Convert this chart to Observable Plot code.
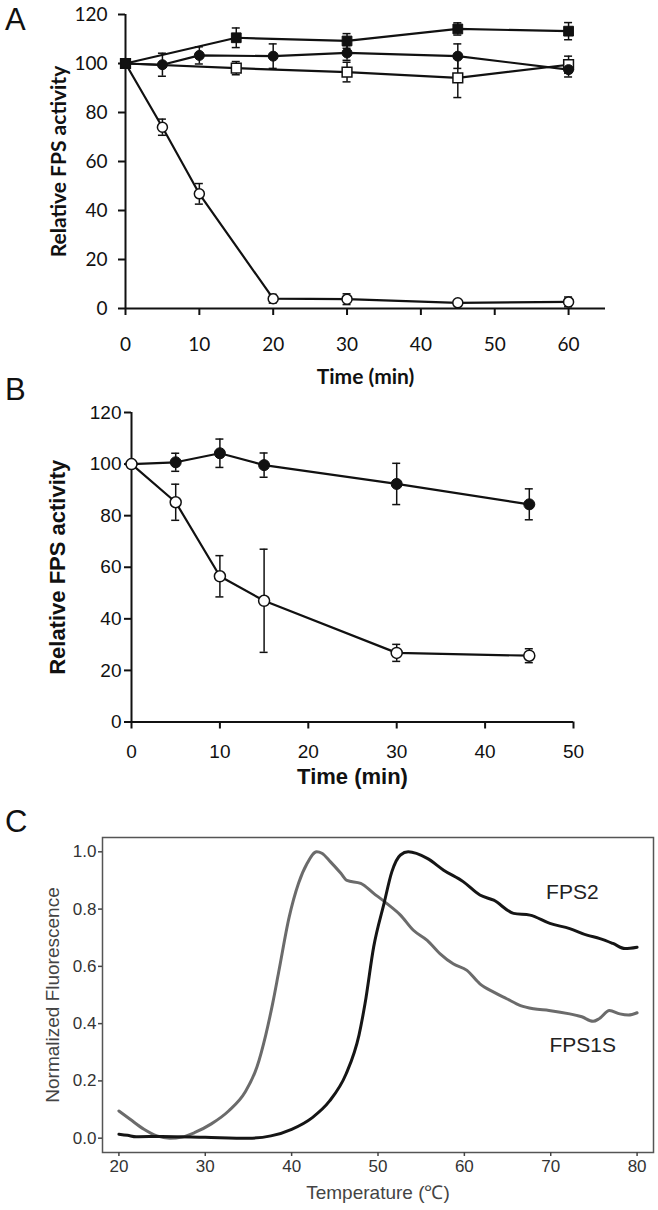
<!DOCTYPE html>
<html><head><meta charset="utf-8">
<script src="https://cdn.jsdelivr.net/npm/d3@7"></script>
<script src="https://cdn.jsdelivr.net/npm/@observablehq/plot@0.6"></script>
<style>
body{margin:0;background:#fff;}
#wrap{position:relative;width:658px;height:1210px;overflow:hidden;background:#fff;}
.panel{position:absolute;left:0;}
.letter{position:absolute;font-family:"Liberation Sans",Arial,sans-serif;font-size:31px;line-height:1;color:#111;}
</style></head><body><div id="wrap"></div>
<script>
// ---------- Panel A data ----------
const timesA_circles = [0, 5, 10, 20, 30, 45, 60];
const timesA_squares = [0, 15, 30, 45, 60];
const a_filledCircle    = [100, 99.5, 103.3, 103, 104.3, 103, 97.5];
const a_filledCircleErr = [0, 4.7, 3.5, 5, 3, 5, 3];
const a_openCircle      = [100, 74, 46.8, 4, 3.8, 2.3, 2.7];
const a_openCircleErr   = [0, 3.3, 4.2, 1.8, 2.2, 0.8, 2];
const a_filledSquare    = [100, 110.5, 109.2, 114.1, 113.2];
const a_filledSquareErr = [0, 4, 3, 2.5, 3.5];
const a_openSquare      = [100, 98.1, 96.5, 94.1, 99.5];
const a_openSquareErr   = [0, 2.7, 4, 8, 3.5];
const ticksA_x = [0, 10, 20, 30, 40, 50, 60];
const ticksA_y = [0, 20, 40, 60, 80, 100, 120];

// ---------- Panel B data ----------
const timesB = [0, 5, 10, 15, 30, 45];
const b_filled    = [100, 100.7, 104.2, 99.6, 92.3, 84.4];
const b_filledErr = [0, 3.5, 5.5, 4.7, 8, 6];
const b_open      = [100, 85.2, 56.5, 47, 26.8, 25.7];
const b_openErr   = [0, 7, 8, 20, 3.3, 2.7];
const ticksB_x = [0, 10, 20, 30, 40, 50];
const ticksB_y = [0, 20, 40, 60, 80, 100, 120];

// ---------- Panel C data ----------
const c_fps1s_T = [20, 21.3, 22.9, 24.4, 25.9, 27.3, 28.8, 30.7, 32.7, 34.6, 36.0, 37.0, 37.8, 38.5, 39.7, 40.8, 41.8, 42.9, 43.5, 44.5, 45.7, 46.4, 48, 49.5, 51, 52.6, 54.1, 55.7, 57.2, 58.7, 60.3, 61.8, 63.4, 64.9, 66.5, 68, 69.8, 72.2, 73.6, 74.9, 75.6, 76.8, 78, 79, 80];
const c_fps1s_F = [0.095, 0.066, 0.031, 0.008, 0.0, 0.004, 0.02, 0.05, 0.095, 0.16, 0.25, 0.36, 0.47, 0.58, 0.77, 0.89, 0.96, 1.0, 0.995, 0.965, 0.925, 0.9, 0.89, 0.855, 0.82, 0.779, 0.726, 0.691, 0.644, 0.609, 0.586, 0.539, 0.51, 0.487, 0.463, 0.452, 0.446, 0.434, 0.424, 0.408, 0.417, 0.446, 0.434, 0.43, 0.438];
const c_fps2_T = [20, 21, 22, 25, 30, 35, 37.6, 40, 42.4, 44.4, 46.3, 47.8, 48.5, 49.5, 50.7, 51.6, 52.6, 53.5, 55.7, 57.6, 59.9, 61.8, 63.4, 65.7, 67.6, 69.9, 72.2, 74.2, 75.7, 77.2, 78.6, 80];
const c_fps2_F = [0.014, 0.01, 0.005, 0.006, 0.003, 0.0, 0.008, 0.031, 0.072, 0.13, 0.224, 0.36, 0.47, 0.668, 0.82, 0.93, 0.989, 1.0, 0.977, 0.936, 0.895, 0.849, 0.831, 0.785, 0.779, 0.75, 0.732, 0.709, 0.697, 0.68, 0.662, 0.667];
const ticksC_x = [20, 30, 40, 50, 60, 70, 80];
const ticksC_y = [0, 0.2, 0.4, 0.6, 0.8, 1.0];
const seriesNamesC = ["FPS2", "FPS1S"];
const seriesLabelAtC = [[72.5, 0.86], [73.7, 0.325]];

// ---------- helpers ----------
function rowsOf(name, times, vals, errs) {
  return times.map((t, i) => ({name, t, v: vals[i], e: errs ? errs[i] : 0}));
}
function errMarks(rows, cap) {
  const r = rows.filter(d => d.e > 0);
  const o = {stroke: "#111", strokeWidth: 1.5};
  return [
    Plot.ruleX(r, {x: "t", y1: d => d.v - d.e, y2: d => d.v + d.e, ...o}),
    Plot.ruleY(r, {y: d => d.v + d.e, x1: "t", x2: "t", insetLeft: -cap, insetRight: -cap, ...o}),
    Plot.ruleY(r, {y: d => d.v - d.e, x1: "t", x2: "t", insetLeft: -cap, insetRight: -cap, ...o})
  ];
}
function xTitle(txt, dy, opts) {
  return Plot.text([txt], {text: d => d, frameAnchor: "bottom", textAnchor: "middle", lineAnchor: "middle", dy, ...opts});
}
function yTitle(txt, dx, opts) {
  return Plot.text([txt], {text: d => d, frameAnchor: "left", rotate: -90, textAnchor: "middle", lineAnchor: "middle", dx, ...opts});
}

const wrap = document.getElementById("wrap");
function place(node, top) {
  const d = document.createElement("div");
  d.className = "panel"; d.style.top = top + "px";
  d.appendChild(node); wrap.appendChild(d);
}
function letter(txt, left, top) {
  const d = document.createElement("div");
  d.className = "letter"; d.textContent = txt;
  d.style.left = left + "px"; d.style.top = top + "px";
  wrap.appendChild(d);
}

// ---------- Panel A ----------
const A_fc = rowsOf("filledCircle", timesA_circles, a_filledCircle, a_filledCircleErr);
const A_oc = rowsOf("openCircle", timesA_circles, a_openCircle, a_openCircleErr);
const A_fs = rowsOf("filledSquare", timesA_squares, a_filledSquare, a_filledSquareErr);
const A_os = rowsOf("openSquare", timesA_squares, a_openSquare, a_openSquareErr);
const fontA = "Lato, 'Open Sans', sans-serif";
const plotA = Plot.plot({
  width: 658, height: 395,
  marginLeft: 125, marginRight: 53, marginTop: 14, marginBottom: 87,
  x: {domain: [0, 65]},
  y: {domain: [0, 120]},
  style: {fontFamily: fontA, fontSize: "19px", color: "#111", background: "transparent", overflow: "visible"},
  marks: [
    Plot.axisX({ticks: ticksA_x, tickSize: 7, tickPadding: 22, strokeWidth: 2, label: null}),
    Plot.axisY({ticks: ticksA_y, tickSize: 7, tickPadding: 11, strokeWidth: 2, label: null}),
    Plot.ruleY([0], {stroke: "#111", strokeWidth: 2}),
    Plot.ruleX([0], {stroke: "#111", strokeWidth: 2}),
    ...[A_oc, A_os, A_fc, A_fs].map(r => Plot.line(r, {x: "t", y: "v", stroke: "#111", strokeWidth: 2.2})),
    ...[A_oc, A_os, A_fc, A_fs].flatMap(r => errMarks(r, 4)),
    Plot.dot(A_oc, {x: "t", y: "v", r: 5, fill: "white", stroke: "#111", strokeWidth: 1.5}),
    Plot.dot(A_os, {x: "t", y: "v", r: 5.5, symbol: "square", fill: "white", stroke: "#111", strokeWidth: 1.5}),
    Plot.dot(A_fc, {x: "t", y: "v", r: 5, fill: "#111", stroke: "#111", strokeWidth: 1}),
    Plot.dot(A_fs, {x: "t", y: "v", r: 5.5, symbol: "square", fill: "#111", stroke: "#111", strokeWidth: 1}),
    xTitle("Time (min)", 69, {fontWeight: "bold", fontSize: 21, fill: "#111"}),
    yTitle("Relative FPS activity", -66, {fontWeight: "bold", fontSize: 21, fill: "#111"})
  ]
});
place(plotA, 0);
letter("A", 5, 4);

// ---------- Panel B ----------
const B_f = rowsOf("filled", timesB, b_filled, b_filledErr);
const B_o = rowsOf("open", timesB, b_open, b_openErr);
const fontB = "'Liberation Sans', Arial, sans-serif";
const plotB = Plot.plot({
  width: 658, height: 405,
  marginLeft: 131, marginRight: 85, marginTop: 17, marginBottom: 78.5,
  x: {domain: [0, 50]},
  y: {domain: [0, 120]},
  style: {fontFamily: fontB, fontSize: "19px", color: "#111", background: "transparent", overflow: "visible"},
  marks: [
    Plot.axisX({ticks: ticksB_x, tickSize: 7, tickPadding: 15, strokeWidth: 2, label: null}),
    Plot.axisY({ticks: ticksB_y, tickSize: 7, tickPadding: 3, strokeWidth: 2, label: null}),
    Plot.ruleY([0], {stroke: "#111", strokeWidth: 2}),
    Plot.ruleX([0], {stroke: "#111", strokeWidth: 2}),
    ...[B_f, B_o].map(r => Plot.line(r, {x: "t", y: "v", stroke: "#111", strokeWidth: 2.2})),
    ...[B_f, B_o].flatMap(r => errMarks(r, 4)),
    Plot.dot(B_f, {x: "t", y: "v", r: 5.5, fill: "#111", stroke: "#111", strokeWidth: 1}),
    Plot.dot(B_o, {x: "t", y: "v", r: 5.5, fill: "white", stroke: "#111", strokeWidth: 1.5}),
    xTitle("Time (min)", 55, {fontWeight: "bold", fontSize: 22, fill: "#111"}),
    yTitle("Relative FPS activity", -74, {fontWeight: "bold", fontSize: 22, fill: "#111"})
  ]
});
place(plotB, 395);
letter("B", 5, 374);

// ---------- Panel C ----------
const C_1s = c_fps1s_T.map((t, i) => ({name: "FPS1S", t, f: c_fps1s_F[i]}));
const C_2 = c_fps2_T.map((t, i) => ({name: "FPS2", t, f: c_fps2_F[i]}));
const C_labels = seriesNamesC.map((n, i) => ({name: n, t: seriesLabelAtC[i][0], f: seriesLabelAtC[i][1]}));
const plotC = Plot.plot({
  width: 658, height: 410,
  marginLeft: 102, marginRight: 5, marginTop: 37, marginBottom: 58,
  x: {domain: [18.1, 81.9]},
  y: {domain: [-0.05, 1.05]},
  style: {fontFamily: fontB, fontSize: "17px", color: "#333", background: "transparent", overflow: "visible"},
  marks: [
    Plot.frame({stroke: "#555", strokeWidth: 1.5}),
    Plot.axisX({ticks: ticksC_x, tickSize: 4, tickPadding: 3, stroke: "#444", strokeWidth: 1.5, fill: "#333", label: null}),
    Plot.axisY({ticks: ticksC_y, tickSize: 4, tickPadding: 2, stroke: "#444", strokeWidth: 1.5, fill: "#333", tickFormat: d3.format(".1f"), label: null}),
    Plot.line(C_1s, {x: "t", y: "f", stroke: "#6b6b6b", strokeWidth: 3, curve: "monotone-x"}),
    Plot.line(C_2, {x: "t", y: "f", stroke: "#151515", strokeWidth: 3, curve: "monotone-x"}),
    Plot.text(C_labels, {x: "t", y: "f", text: "name", fontSize: 21, fill: "#222"}),
    xTitle("Temperature (\u2103)", 40, {fontSize: 19, fill: "#444"}),
    yTitle("Normalized Fluorescence", -50, {fontSize: 19, fill: "#444"})
  ]
});
place(plotC, 800);
letter("C", 5, 806);
</script>
</body></html>
